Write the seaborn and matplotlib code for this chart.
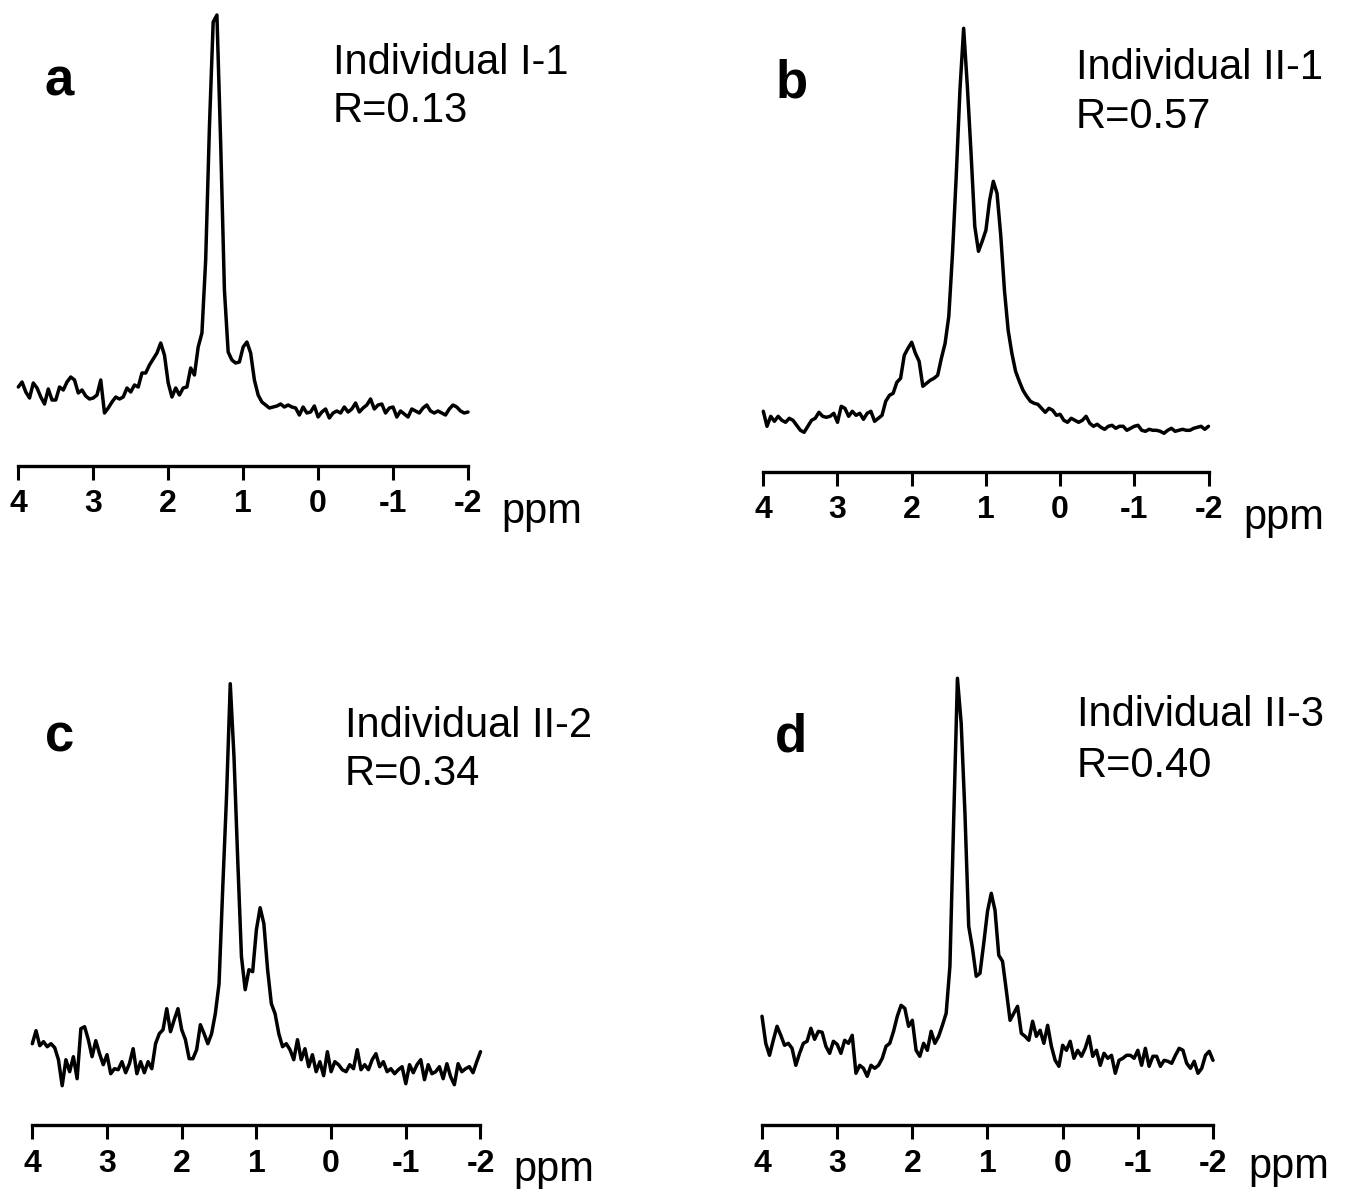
import numpy as np
import pandas as pd
import matplotlib
matplotlib.use("Agg")
import matplotlib.pyplot as plt
import seaborn as sns

# ---------------- data ----------------
ppm = np.linspace(4.0, -2.0, 121)  # sampling grid, 0.05 ppm steps

tick_values = [4, 3, 2, 1, 0, -1, -2]
tick_labels = ["4", "3", "2", "1", "0", "-1", "-2"]

panel_letters = ["a", "b", "c", "d"]
individuals = ["Individual I-1", "Individual II-1", "Individual II-2", "Individual II-3"]
r_labels = ["R=0.13", "R=0.57", "R=0.34", "R=0.40"]

signal_a = [33, 38, 28, 22, 37, 32, 23, 16, 31, 20, 20, 33, 30, 38, 43, 40, 27, 30, 24, 21,
            22, 25, 40, 7, 12, 18, 23, 21, 23, 32, 28, 35, 33, 47, 47, 55, 61, 67, 77, 65,
            37, 23, 32, 25, 32, 33, 52, 45, 73, 87, 160, 293, 398, 405, 277, 130, 68, 60, 57, 58,
            73, 78, 67, 40, 25, 18, 15, 12, 13, 14, 16, 13, 15, 13, 12, 5, 13, 7, 8, 14,
            3, 8, 11, 2, 7, 9, 7, 13, 8, 11, 17, 8, 12, 15, 21, 11, 15, 16, 7, 12,
            13, 3, 9, 6, 3, 11, 9, 7, 12, 15, 9, 7, 9, 7, 5, 11, 15, 13, 9, 7, 8]

signal_b = [22, 7, 17, 12, 17, 13, 11, 15, 13, 8, 3, 1, 7, 13, 15, 21, 17, 16, 17, 20,
            11, 27, 25, 17, 22, 18, 20, 14, 20, 22, 12, 15, 18, 32, 38, 40, 51, 55, 78, 85,
            91, 80, 72, 47, 50, 53, 55, 58, 75, 90, 117, 180, 257, 343, 405, 347, 280, 207, 182, 192,
            203, 233, 252, 240, 198, 143, 103, 80, 62, 52, 43, 37, 32, 30, 29, 25, 21, 25, 23, 18,
            19, 13, 11, 15, 13, 11, 13, 17, 10, 7, 9, 6, 4, 7, 8, 5, 7, 7, 3, 5,
            7, 8, 3, 2, 4, 3, 3, 2, 0, 3, 5, 2, 3, 4, 3, 3, 5, 6, 7, 4, 7]

signal_c = [43, 56, 41, 45, 40, 43, 39, 27, 1, 27, 15, 30, 8, 58, 60, 47, 30, 46, 33, 22,
            32, 13, 18, 17, 25, 14, 23, 38, 13, 25, 14, 25, 18, 43, 53, 57, 78, 55, 67, 78,
            57, 47, 28, 28, 37, 62, 53, 43, 53, 73, 103, 200, 290, 403, 330, 227, 130, 97, 117, 115,
            157, 179, 163, 117, 83, 73, 53, 40, 43, 37, 27, 47, 27, 38, 20, 32, 15, 25, 11, 35,
            15, 25, 22, 17, 15, 22, 18, 37, 17, 22, 17, 27, 33, 20, 25, 15, 18, 13, 17, 20,
            3, 22, 14, 22, 27, 7, 22, 13, 15, 20, 8, 23, 10, 2, 23, 15, 18, 20, 14, 25, 35]

signal_d = [67, 40, 28, 43, 57, 48, 38, 40, 35, 18, 30, 40, 42, 55, 44, 52, 51, 37, 30, 42,
            39, 30, 43, 40, 48, 10, 18, 15, 7, 18, 15, 18, 25, 37, 40, 52, 67, 78, 75, 57,
            63, 33, 27, 40, 33, 52, 40, 47, 58, 70, 117, 263, 405, 360, 270, 157, 135, 107, 110, 140,
            172, 190, 173, 128, 122, 93, 63, 70, 77, 50, 47, 43, 62, 47, 53, 40, 58, 37, 23, 17,
            38, 33, 42, 25, 33, 27, 35, 47, 27, 33, 18, 30, 25, 28, 10, 23, 25, 28, 28, 25,
            33, 18, 35, 17, 27, 27, 17, 23, 22, 20, 28, 35, 33, 20, 15, 22, 10, 15, 28, 32, 23]

signals = [signal_a, signal_b, signal_c, signal_d]

# ---------------- layout (pixel geometry of the reference) ----------------
W, H = 1351, 1189
sns.set_style("white")
plt.rcParams["font.family"] = ["Liberation Sans", "DejaVu Sans"]
plt.rcParams["axes.unicode_minus"] = False
plt.rcParams["text.color"] = "black"
plt.rcParams["xtick.color"] = "black"
plt.rcParams["axes.labelcolor"] = "black"

fig = plt.figure(figsize=(W / 100, H / 100), dpi=100)

# x0, x1 (px of 4 and -2 ppm), top px, spine px, px of zero signal
geom = [
    (18.3, 468.0, 10, 465.7, 420.0),
    (763.3, 1208.5, 10, 471.7, 433.3),
    (32.3, 480.5, 665, 1125.0, 1086.7),
    (762.0, 1213.0, 665, 1125.0, 1083.3),
]
# text positions: letter (x, baseline), info (x, baseline1, baseline2), ppm (x, baseline)
letter_pos = [(45, 95), (776, 97), (45, 752), (775, 752)]
info_pos = [(333, 74, 122), (1076, 79, 128), (345, 737, 785), (1077, 726, 777)]
ppm_pos = [(501, 523), (1243, 529), (513, 1181), (1248, 1178)]


def fx(x):
    return x / W


def fy(y):
    return 1 - y / H


for k in range(4):
    x0, x1, ytop, ybot, yzero = geom[k]
    ax = fig.add_axes([fx(x0), fy(ybot), (x1 - x0) / W, (ybot - ytop) / H])
    ax.patch.set_alpha(0)
    df = pd.DataFrame({"ppm": ppm, "signal": signals[k]})
    sns.lineplot(data=df, x="ppm", y="signal", ax=ax, color="black",
                 linewidth=2.5, estimator=None)
    for ln in ax.lines:
        ln.set_clip_on(False)
        ln.set_solid_joinstyle("round")
    ax.set_xlim(4, -2)
    ax.set_ylim(yzero - ybot, yzero - ytop)
    for s in ["top", "left", "right"]:
        ax.spines[s].set_visible(False)
    ax.spines["bottom"].set_color("black")
    ax.spines["bottom"].set_linewidth(2.4)
    ax.set_yticks([])
    ax.set_xticks(tick_values)
    ax.set_xticklabels(tick_labels, fontsize=23, fontweight="bold", color="black")
    ax.tick_params(axis="x", direction="out", length=10, width=2.2, pad=7,
                   color="black", bottom=True)
    ax.set_xlabel("")
    ax.set_ylabel("")

    lx, lb = letter_pos[k]
    fig.text(fx(lx), fy(lb), panel_letters[k], fontsize=38, fontweight="bold",
             ha="left", va="baseline", color="black")
    ix, b1, b2 = info_pos[k]
    fig.text(fx(ix), fy(b1), individuals[k], fontsize=30, ha="left", va="baseline", color="black")
    fig.text(fx(ix), fy(b2), r_labels[k], fontsize=30, ha="left", va="baseline", color="black")
    px, pb = ppm_pos[k]
    fig.text(fx(px), fy(pb), "ppm", fontsize=30, ha="left", va="baseline", color="black")

fig.savefig("out.png", dpi=100)
